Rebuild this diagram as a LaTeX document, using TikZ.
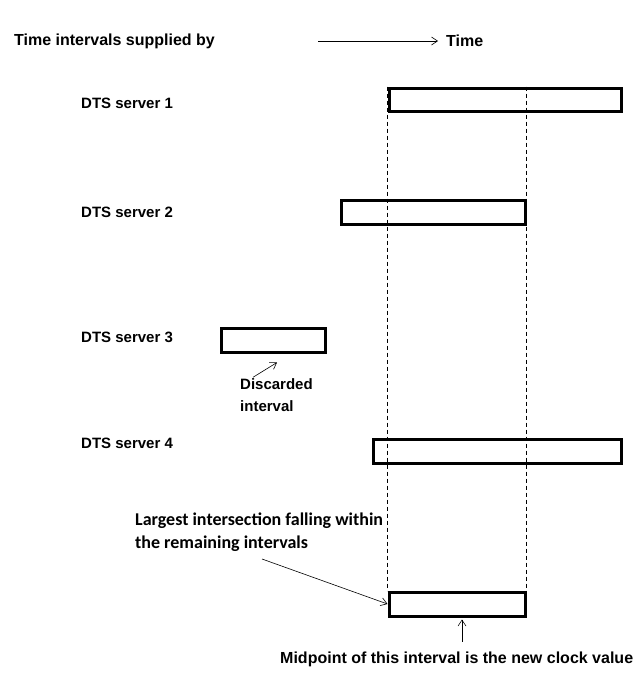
\documentclass[tikz,border=0pt]{standalone}
\usepackage{fontspec}
\setmainfont{Liberation Sans}
\newfontfamily\calfont{Carlito}
\usetikzlibrary{arrows.meta}

\begin{document}
\begin{tikzpicture}[x=1pt, y=-1pt,
  interval/.style={draw, line width=3pt, inner sep=0pt},
  lbl/.style={anchor=west, inner sep=0pt, font=\fontsize{15}{17}\selectfont\bfseries},
  note/.style={anchor=west, inner sep=0pt, align=left, font=\fontsize{18}{23}\selectfont\calfont\bfseries},
  arr/.style={-{Straight Barb[length=6pt,width=8pt]}, line width=0.6pt}]
\useasboundingbox[fill=white] (0,0) rectangle (641,683);

% header
\node[lbl, font=\fontsize{16}{18}\selectfont\bfseries] (head) at (14,41) {Time intervals supplied by};
\node[lbl, font=\fontsize{16}{18}\selectfont\bfseries] (time) at (446,41) {Time};
\coordinate (t0) at (318,41);
\draw[arr] (t0) -- ([xshift=-8pt]time.west);

% servers
\node[lbl] (l1) at (81,103) {DTS server 1};
\node[lbl] (l2) at (81,212) {DTS server 2};
\node[lbl] (l3) at (81,337) {DTS server 3};
\node[lbl] (l4) at (81,443) {DTS server 4};

\node[interval, minimum width=232pt, minimum height=23pt] (s1) at (505,99.5) {};
\node[interval, minimum width=184pt, minimum height=24pt] (s2) at (433,212) {};
\node[interval, minimum width=104pt, minimum height=24pt] (s3) at (273,340) {};
\node[interval, minimum width=248pt, minimum height=24pt] (s4) at (497,451) {};
\node[interval, minimum width=136pt, minimum height=24pt] (res) at (457,604) {};

% intersection bounds
\draw[dash pattern=on 4pt off 3pt, line width=0.5pt] (s1.north west) -- (res.north west);
\draw[dash pattern=on 4pt off 3pt, line width=0.5pt] (s2.east |- s1.north) -- (res.north east);

% discarded
\node[lbl, align=left, font=\fontsize{15}{22}\selectfont\bfseries] (disc) at (240,395) {Discarded\\interval};
\draw[arr] ([xshift=13pt,yshift=1pt]disc.north west) -- ([xshift=4pt,yshift=-9pt]s3.south);

% result
\node[note] (larg) at (135,532) {Largest intersection falling within\\the remaining intervals};
\coordinate (lt) at (262,559);
\draw[arr] (lt) -- (res.west);

\node[lbl, font=\fontsize{16}{18}\selectfont\bfseries] (mid) at (280,659) {Midpoint of this interval is the new clock value};
\draw[arr] ([xshift=5pt,yshift=-24pt]res.south) -- ([xshift=5pt,yshift=-2pt]res.south);
\end{tikzpicture}
\end{document}
